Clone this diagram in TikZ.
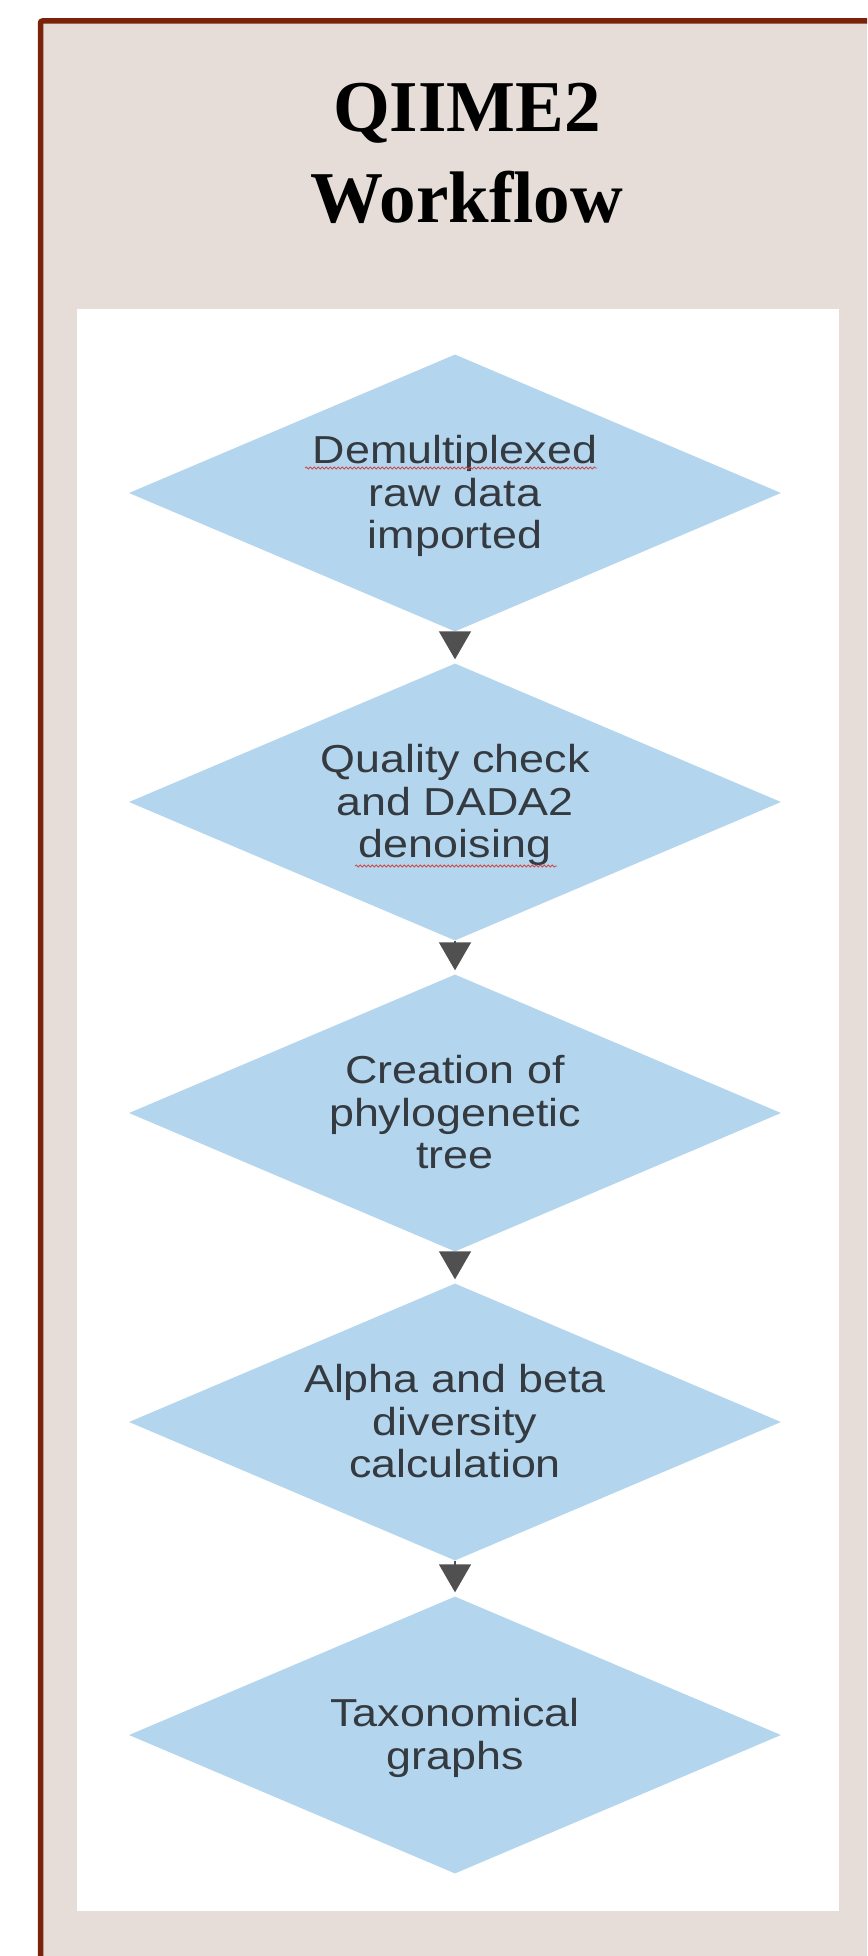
\documentclass[tikz,border=0pt]{standalone}
\usepackage{fontspec}
\setmainfont{Liberation Serif}
\newfontfamily\arialf[FakeStretch=1.15]{Liberation Sans}
\usetikzlibrary{shapes.geometric,arrows.meta,decorations.pathmorphing}
\definecolor{framecol}{HTML}{7B220B}
\definecolor{paper}{HTML}{E6DDD8}
\definecolor{boxblue}{HTML}{B3D6EE}
\definecolor{txt}{HTML}{343A40}
\definecolor{arr}{HTML}{505050}
\definecolor{spellred}{HTML}{D04848}
\newcommand\TopStr{\rule{0pt}{36pt}}
\newcommand\BotStr{\rule[-10pt]{0pt}{10pt}}
\begin{document}
\begin{tikzpicture}[x=1pt,y=-1pt,
  stepdiamond/.style={diamond, fill=boxblue, draw=none, aspect=2.354,
    minimum width=652pt, minimum height=277pt, inner sep=0pt, align=center,
    text=txt, font=\arialf\fontsize{39}{42.5}\selectfont},
  flowarrow/.style={draw=arr, line width=1.5pt,
    -{Triangle[width=32pt,length=28pt]}, shorten >=4pt},
  spell/.style={spellred, line width=0.8pt, decorate,
    decoration={snake, amplitude=1pt, segment length=4pt}},
  titletext/.style={font=\bfseries\fontsize{73}{91}\selectfont, align=center, text=black}]
\useasboundingbox (0,0) rectangle (867,1956);
\clip (0,0) rectangle (867,1956);
\draw[framecol, line width=5.5pt, fill=paper, rounded corners=2pt] (40.5,21) rectangle (900,2000);
\fill[white] (77,309) rectangle (839,1911);
\node[titletext] (title) at (467,153) {QIIME2\\Workflow};
\node[stepdiamond] (d1) at (455,493) {\TopStr Demultiplexed\\raw data\\imported\BotStr};
\node[stepdiamond] (d2) at (455,802) {\TopStr Quality check\\and DADA2\\denoising\BotStr};
\node[stepdiamond] (d3) at (455,1113) {\TopStr Creation of\\phylogenetic\\tree\BotStr};
\node[stepdiamond] (d4) at (455,1422) {\TopStr Alpha and beta\\diversity\\calculation\BotStr};
\node[stepdiamond] (d5) at (455,1735) {\TopStr Taxonomical\\graphs\BotStr};
\draw[flowarrow] (d1.south) -- (d2.north);
\draw[flowarrow] (d2.south) -- (d3.north);
\draw[flowarrow] (d3.south) -- (d4.north);
\draw[flowarrow] (d4.south) -- (d5.north);
\draw[spell] (305,468) -- (597,468);
\draw[spell] (355,866) -- (557,866);
\end{tikzpicture}
\end{document}
